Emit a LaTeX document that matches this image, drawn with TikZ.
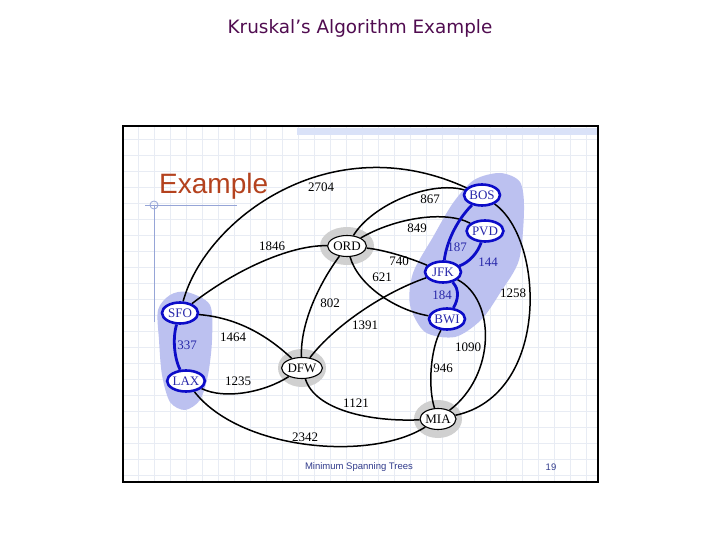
\documentclass[tikz,border=0pt]{standalone}
\usepackage{fontspec}
\setmainfont{Liberation Serif}
\newfontfamily\titlefont{DejaVu Sans}
\newfontfamily\slidefont{Liberation Sans}
\usepackage{xcolor}
\usepackage{tikz}
\usetikzlibrary{shapes.geometric, backgrounds}

\definecolor{mstblue}{RGB}{12,12,200}
\definecolor{mstlabel}{RGB}{40,40,170}
\definecolor{blobblue}{RGB}{188,193,240}
\definecolor{halogray}{RGB}{208,208,208}
\definecolor{gridpale}{RGB}{232,236,244}
\definecolor{bandblue}{RGB}{218,226,248}
\definecolor{guideblue}{RGB}{150,165,215}
\definecolor{headbrown}{RGB}{180,66,30}
\definecolor{footblue}{RGB}{50,60,140}
\definecolor{titlepurple}{RGB}{80,12,80}

\begin{document}
\begin{tikzpicture}[x=1pt, y=-1pt]
\tikzstyle{airport} = [ellipse, draw, fill=white, line width=1.1pt, inner sep=0pt, minimum width=36pt, minimum height=21pt, font=\fontsize{13}{15}\selectfont]
\tikzstyle{mstport} = [airport, draw=mstblue, line width=2.6pt, text=mstlabel]
\tikzstyle{road} = [line width=1.5pt]
\tikzstyle{mst} = [line width=2.8pt, draw=mstblue]
\tikzstyle{wt} = [inner sep=0pt, font=\fontsize{13}{15}\selectfont]
\tikzstyle{mstwt} = [wt, text=mstlabel]
\tikzstyle{halo} = [fill=halogray]
\useasboundingbox (0,0) rectangle (720,540);

% airports
\node (bos) [mstport] at (482,195) {BOS};
\node (pvd) [mstport] at (485,231) {PVD};
\node (jfk) [mstport] at (443,272) {JFK};
\node (bwi) [mstport] at (447,319) {BWI};
\node (sfo) [mstport] at (180,313) {SFO};
\node (lax) [mstport] at (186,381) {LAX};
\node (ord) [airport] at (347,246) {ORD};
\node (dfw) [airport] at (302,368) {DFW};
\node (mia) [airport] at (438,419) {MIA};

% slide texts
\node (title) [font=\titlefont\fontsize{18.4}{20}\selectfont, text=titlepurple] at (360,28) {Kruskal’s Algorithm Example};
\node (heading) [anchor=base west, inner sep=0pt, font=\slidefont\fontsize{28}{30}\selectfont, text=headbrown] at (159,194) {Example};
\node (footer) [font=\slidefont\fontsize{9.5}{11}\selectfont, text=footblue] at (359,467) {Minimum Spanning Trees};
\node (pagenum) [font=\slidefont\fontsize{9.5}{11}\selectfont, text=footblue] at (551,467) {19};

\begin{scope}[on background layer]
\fill[white] (123,126) rectangle (598,482);
\foreach \gx in {138,154,...,586}
  \draw[gridpale, line width=0.6pt] (\gx,127) -- (\gx,481);
\foreach \gy in {139,155,...,475}
  \draw[gridpale, line width=0.6pt] (124,\gy) -- (597,\gy);
\fill[bandblue] (297,128) rectangle (597,135);
\draw[guideblue, line width=0.8pt] (145,205) -- (237,205);
\draw[guideblue, line width=0.8pt] (154,205) -- (154,322);
\draw[guideblue, line width=0.8pt] (154,205) circle [radius=4];

% clusters and hubs
\fill[blobblue] plot[smooth cycle] coordinates {(500,173) (520,182) (524,210) (519,260) (500,293) (481,320) (455,337) (425,332) (410,305) (413,273) (433,237) (453,203) (474,180)};
\fill[blobblue] plot[smooth cycle] coordinates {(187,292) (210,305) (212,340) (208,375) (200,400) (185,410) (170,402) (162,375) (159,340) (158,310) (170,295)};
\fill[halo] (ord) ellipse [x radius=27, y radius=19];
\fill[halo] (dfw) ellipse [x radius=24, y radius=19];
\fill[halo] (mia) ellipse [x radius=24, y radius=19];

% flights
\draw[road] (sfo) .. controls (205,220) and (330,125) .. (bos);
\draw[road] (ord) .. controls (372,205) and (430,180) .. (bos);
\draw[road] (ord) .. controls (395,218) and (445,210) .. (pvd);
\draw[road] (ord) .. controls (385,250) and (410,258) .. (jfk);
\draw[road] (ord) .. controls (358,285) and (395,310) .. (bwi);
\draw[road] (ord) .. controls (318,285) and (300,325) .. (dfw);
\draw[road] (sfo) .. controls (235,270) and (290,245) .. (ord);
\draw[road] (jfk) .. controls (385,292) and (335,325) .. (dfw);
\draw[road] (sfo) .. controls (240,318) and (270,338) .. (dfw);
\draw[road] (lax) .. controls (225,400) and (265,392) .. (dfw);
\draw[road] (dfw) .. controls (315,410) and (370,422) .. (mia);
\draw[road] (lax) .. controls (240,450) and (370,462) .. (mia);
\draw[road] (bwi) .. controls (430,350) and (428,388) .. (mia);
\draw[road] (jfk) .. controls (496,300) and (496,375) .. (mia);
\draw[road] (bos) .. controls (545,240) and (550,395) .. (mia);
\draw[mst] (bos) .. controls (455,222) and (446,245) .. (jfk);
\draw[mst] (pvd) .. controls (478,252) and (470,262) .. (jfk);
\draw[mst] (jfk) .. controls (460,290) and (458,300) .. (bwi);
\draw[mst] (sfo) .. controls (172,340) and (175,360) .. (lax);
\end{scope}

\draw[line width=2.4pt] (123,126) rectangle (598,482);

% weights
\node (w2704) [wt] at (321,187) {2704};
\node (w867) [wt] at (430,199) {867};
\node (w849) [wt] at (417,228) {849};
\node (w740) [wt] at (399,261) {740};
\node (w621) [wt] at (382,277) {621};
\node (w802) [wt] at (330,303) {802};
\node (w1846) [wt] at (272,246) {1846};
\node (w1391) [wt] at (365,325) {1391};
\node (w1464) [wt] at (233,337) {1464};
\node (w1235) [wt] at (238,381) {1235};
\node (w1121) [wt] at (356,403) {1121};
\node (w2342) [wt] at (305,437) {2342};
\node (w946) [wt] at (443,368) {946};
\node (w1090) [wt] at (468,347) {1090};
\node (w1258) [wt] at (513,293) {1258};
\node (w187) [mstwt] at (457,247) {187};
\node (w144) [mstwt] at (488,262) {144};
\node (w184) [mstwt] at (442,295) {184};
\node (w337) [mstwt] at (187,345) {337};
\end{tikzpicture}
\end{document}
